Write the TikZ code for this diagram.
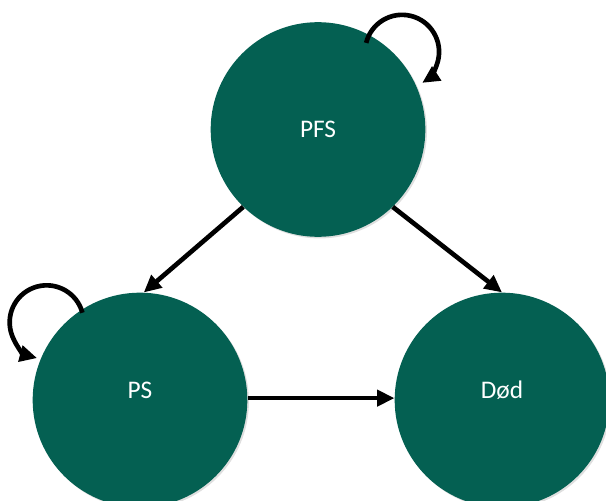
\documentclass[tikz,border=0pt]{standalone}
\usepackage{fontspec}
\setmainfont{Carlito}
\usepackage{tikz}
\usetikzlibrary{arrows.meta,shadows}
\definecolor{forest}{RGB}{4, 96, 82}

\tikzset{
    state/.style={circle, fill=forest, text=white, minimum size=161pt, inner sep=0pt,
        font=\fontsize{19}{22}\selectfont,
        drop shadow={opacity=0.25, shadow xshift=1.2pt, shadow yshift=-1.2pt}},
    lifted/.style={text height=0pt, text depth=3pt},
    trans/.style={line width=3.5pt, -{Triangle[length=13pt, width=12pt]}}
}

\begin{document}
\begin{tikzpicture}[x=0.75pt, y=0.75pt]
    \useasboundingbox (0,0) rectangle (606,500);

    % States
    \node[state] (pfs) at (318,370.5) {PFS};
    \node[state, lifted] (ps) at (140,100) {PS};
    \node[state, lifted] (dod) at (502,100) {Død};

    % Transitions between states
    \draw[trans] (pfs.226) -- (ps.88);
    \draw[trans] (pfs.314) -- (dod.90);
    \draw[trans] (ps.1) -- (dod.179);

    % Staying in the same state
    \draw[trans] ([shift={(-4,-7.5)}]pfs.61) arc[start angle=166, end angle=-57, radius=27.75pt];
    \draw[trans] ([shift={(1,-3)}]ps.123) arc[start angle=15, end angle=255, radius=27.75pt];
\end{tikzpicture}
\end{document}
